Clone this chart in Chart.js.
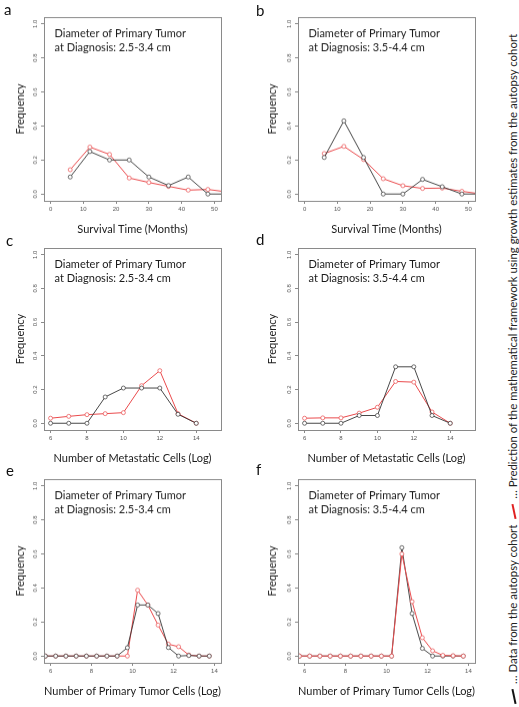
<!DOCTYPE html>
<html>
<head>
<meta charset="utf-8">
<script src="https://cdn.jsdelivr.net/npm/chart.js@4.4.1/dist/chart.umd.min.js"></script>
<style>
  html, body { margin: 0; padding: 0; background: #fff; width: 519px; height: 707px; overflow: hidden; }
  .pc { position: absolute; }
  .lbl { position: absolute; font-family: Lato, "Open Sans", sans-serif; font-size: 15px; color: #111; line-height: 15px; }
  #legend { position: absolute; left: 505px; top: 707px; width: 690px; height: 16px; transform: rotate(-90deg); transform-origin: 0 0;
    font-family: Lato, "Open Sans", sans-serif; font-size: 11.4px; line-height: 16px; color: #222; white-space: nowrap; }
  .slash { display: inline-block; width: 15px; height: 0; border-top: 2.5px solid #111; transform: rotate(-12deg); vertical-align: middle; margin: 0 5px 0 3px; }
</style>
</head>
<body>
<div id="wrap"></div>
<div id="legend"><span class="slash" style="border-color:#111"></span>… Data from the autopsy cohort<span class="slash" style="border-color:#e02020;margin-left:6px"></span>… Prediction of the mathematical framework using growth estimates from the autopsy cohort</div>
<script>
// ---------- data ----------
const survivalMonths = [6, 12, 18, 24, 30, 36, 42, 48, 54];
const metLog = [6, 7, 8, 9, 10, 11, 12, 13, 14];
const primLog = [5.75, 6.25, 6.75, 7.25, 7.75, 8.25, 8.75, 9.25, 9.75, 10.25, 10.75, 11.25, 11.75, 12.25, 12.75, 13.25, 13.75];

const aData = [0.10, 0.25, 0.20, 0.20, 0.10, 0.05, 0.10, 0.00, 0.00];
const aModel = [0.143, 0.276, 0.233, 0.094, 0.068, 0.045, 0.023, 0.027, 0.012];
const bData = [0.215, 0.43, 0.215, 0.0, 0.0, 0.086, 0.043, 0.0, 0.0];
const bModel = [0.238, 0.28, 0.203, 0.09, 0.049, 0.033, 0.035, 0.016, 0.0];

const cData = [0, 0, 0, 0.156, 0.209, 0.209, 0.209, 0.053, 0];
const cModel = [0.03, 0.041, 0.051, 0.057, 0.063, 0.223, 0.312, 0.057, 0];
const dData = [0, 0, 0, 0.046, 0.046, 0.335, 0.335, 0.046, 0];
const dModel = [0.03, 0.032, 0.032, 0.06, 0.095, 0.248, 0.244, 0.067, 0];

const eData = [0, 0, 0, 0, 0, 0, 0, 0, 0.049, 0.30, 0.30, 0.25, 0.05, 0, 0.003, 0, 0];
const eModel = [0, 0, 0, 0, 0, 0, 0, 0, 0, 0.387, 0.30, 0.182, 0.07, 0.055, 0.006, 0, 0];
const fData = [0, 0, 0, 0, 0, 0, 0, 0, 0, 0, 0.637, 0.25, 0.045, 0, 0, 0, 0];
const fModel = [0, 0, 0, 0, 0, 0, 0, 0, 0, 0, 0.60, 0.32, 0.108, 0.031, 0.004, 0.002, 0];

const survTicks = [0, 10, 20, 30, 40, 50];
const logTicks = [6, 8, 10, 12, 14];
const freqTicks = [0, 0.2, 0.4, 0.6, 0.8, 1.0];

const survTitle = 'Survival Time (Months)';
const metTitle = 'Number of Metastatic Cells (Log)';
const primTitle = 'Number of Primary Tumor Cells (Log)';
const yTitle = 'Frequency';
const caption1 = 'Diameter of Primary Tumor';
const capA = 'at Diagnosis: 2.5-3.4 cm';
const capB = 'at Diagnosis: 3.5-4.4 cm';

// ---------- layout ----------
const rows = [{top: 17.2, h: 183.9}, {top: 247.5, h: 182.6}, {top: 479, h: 183.8}];
const cols = [{left: 0, tpad: 13.9}, {left: 254, tpad: 11.9}];
const LAT = 'Lato, "Open Sans", sans-serif';
const TXT = 11;

const panels = [
  {r:0, c:0, letter:'a', x:survivalMonths, d:aData, m:aModel, xmin:-2, xmax:52, xt:survTicks, xtitle:survTitle, cap:capA, modelTop:false},
  {r:0, c:1, letter:'b', x:survivalMonths, d:bData, m:bModel, xmin:-2, xmax:52, xt:survTicks, xtitle:survTitle, cap:capB, modelTop:false},
  {r:1, c:0, letter:'c', x:metLog, d:cData, m:cModel, xmin:5.64, xmax:15.36, xt:logTicks, xtitle:metTitle, cap:capA, modelTop:false},
  {r:1, c:1, letter:'d', x:metLog, d:dData, m:dModel, xmin:5.64, xmax:15.36, xt:logTicks, xtitle:metTitle, cap:capB, modelTop:false},
  {r:2, c:0, letter:'e', x:primLog, d:eData, m:eModel, xmin:5.68, xmax:14.32, xt:logTicks, xtitle:primTitle, cap:capA, modelTop:false},
  {r:2, c:1, letter:'f', x:primLog, d:fData, m:fModel, xmin:5.68, xmax:14.32, xt:logTicks, xtitle:primTitle, cap:capB, modelTop:true}
];
const letterPos = {a:[4,2], b:[256,3], c:[6,233], d:[256,232], e:[6,463], f:[256,462]};

const boxPlugin = {
  id: 'boxPlugin',
  afterDraw(chart, args, opts) {
    const {ctx, chartArea: a} = chart;
    ctx.save();
    ctx.strokeStyle = '#8a8a8a';
    ctx.lineWidth = 1;
    ctx.strokeRect(Math.round(a.left) + 0.5, Math.round(a.top) + 0.5, Math.round(a.right - a.left), Math.round(a.bottom - a.top));
    ctx.fillStyle = '#1a1a1a';
    ctx.font = TXT + 'px ' + LAT;
    ctx.textBaseline = 'alphabetic';
    ctx.textAlign = 'left';
    ctx.fillText(opts.l1, a.left + 10.5, a.top + 20);
    ctx.fillText(opts.l2, a.left + 10.5, a.top + 34);
    ctx.restore();
  }
};

const wrap = document.getElementById('wrap');
panels.forEach(p => {
  const row = rows[p.r], col = cols[p.c];
  const cTop = row.top - 17;
  const W = 240, H = 17 + row.h + 40;
  const cv = document.createElement('canvas');
  cv.className = 'pc';
  cv.style.left = col.left + 'px';
  cv.style.top = cTop + 'px';
  cv.style.width = W + 'px';
  cv.style.height = H + 'px';
  cv.width = W; cv.height = H;
  wrap.appendChild(cv);

  const lab = document.createElement('div');
  lab.className = 'lbl';
  lab.textContent = p.letter;
  lab.style.left = letterPos[p.letter][0] + 'px';
  lab.style.top = letterPos[p.letter][1] + 'px';
  document.body.appendChild(lab);

  const mk = (arr) => p.x.map((v, i) => ({x: v, y: arr[i]}));
  const dataDs = {label: 'Data', data: mk(p.d), borderColor: '#333333', borderWidth: 0.9,
    pointRadius: 2, pointBorderWidth: 0.7, pointBorderColor: '#333333', pointBackgroundColor: '#ffffff', tension: 0};
  const modelDs = {label: 'Model', data: mk(p.m), borderColor: '#ea4a4c', borderWidth: 1,
    pointRadius: 2, pointBorderWidth: 0.7, pointBorderColor: '#ea4a4c', pointBackgroundColor: '#ffffff', tension: 0};
  const datasets = p.modelTop ? [modelDs, dataDs] : [dataDs, modelDs];

  const xHeight = 34.6;
  const padB = H - (17 + row.h) - xHeight;
  new Chart(cv, {
    type: 'line',
    data: {datasets},
    options: {
      responsive: false, animation: false, events: [],
      devicePixelRatio: 1,
      layout: {padding: {left: col.tpad, top: 17, right: 19, bottom: padB}},
      plugins: {legend: {display: false}, tooltip: {enabled: false}, boxPlugin: {l1: caption1, l2: p.cap}},
      scales: {
        x: {
          type: 'linear', position: 'bottom', min: p.xmin, max: p.xmax,
          afterBuildTicks: s => { s.ticks = p.xt.map(v => ({value: v})); },
          afterFit: s => { s.height = xHeight; },
          ticks: {font: {family: '"Liberation Sans", Arial, sans-serif', size: 6}, color: '#555', padding: 2, maxRotation: 0, minRotation: 0, autoSkip: false,
                  callback: v => String(v)},
          grid: {drawOnChartArea: false, drawTicks: true, tickLength: 3, color: '#8a8a8a', lineWidth: 1},
          border: {display: false},
          title: {display: true, text: p.xtitle, font: {family: LAT, size: TXT}, color: '#1a1a1a', padding: 0}
        },
        y: {
          type: 'linear', position: 'left', min: -0.04, max: 1.04,
          afterBuildTicks: s => { s.ticks = freqTicks.map(v => ({value: v})); },
          afterFit: s => { s.width = 44 - col.tpad; },
          ticks: {font: {family: '"Liberation Sans", Arial, sans-serif', size: 6}, color: '#555', padding: 1.5, minRotation: 90, maxRotation: 90,
                  crossAlign: 'center', autoSkip: false, callback: v => v.toFixed(1)},
          grid: {drawOnChartArea: false, drawTicks: true, tickLength: 3, color: '#8a8a8a', lineWidth: 1},
          border: {display: false},
          title: {display: true, text: yTitle, font: {family: LAT, size: TXT}, color: '#1a1a1a', padding: 0}
        }
      }
    },
    plugins: [boxPlugin]
  });
});
</script>
</body>
</html>
